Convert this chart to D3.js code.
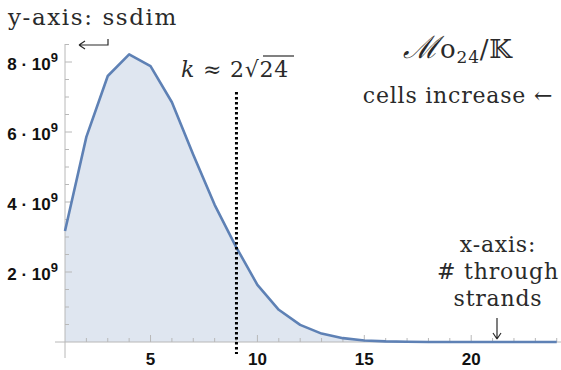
<!DOCTYPE html>
<html>
<head>
<meta charset="UTF-8">
<script src="https://d3js.org/d3.v7.min.js"></script>
</head>
<body style="margin:0">
<svg id="chart" width="561" height="370"></svg>
<script>
// through strands (x) and ssdim values (y, in units of 1e9)
const strands = [1, 2, 3, 4, 5, 6, 7, 8, 9, 10, 11, 12, 13, 14, 15, 16, 17, 18, 19, 20, 21, 22, 23, 24];
const ssdim = [3.17, 5.86, 7.6, 8.22, 7.88, 6.85, 5.35, 3.92, 2.72, 1.63, 0.92, 0.49, 0.24, 0.11, 0.045,
  0.017, 0.006, 0.002, 0.0007, 0.0002, 0.0001, 0, 0, 0];
const xTicks = [5, 10, 15, 20];
const yTicks = [2, 4, 6, 8];
const kMark = 9.02;

const SERIF = "DejaVu Serif";
const SANS = "Liberation Sans";

const svg = d3.select("#chart");
const x = d3.scaleLinear().domain([1, 24.2]).range([65, 561]);
const y = d3.scaleLinear().domain([0, 8]).range([342, 62]);

const blue = "#5e81b5";
const axisCol = "#b8b8b8";
const ink = "#2a2a2a";

const pts = strands.map((s, i) => [s, ssdim[i]]);

function serifText(px, py, size, anchor) {
  return svg.append("text").style("font-family", SERIF).style("font-size", size + "px")
    .style("letter-spacing", "0.8px")
    .attr("fill", ink)
    .attr("x", px).attr("y", py)
    .attr("text-anchor", anchor || "start");
}

// area fill
svg.append("path")
  .datum(pts)
  .attr("fill", blue).attr("fill-opacity", 0.2)
  .attr("d", d3.area().x(d => x(d[0])).y0(y(0)).y1(d => y(d[1])));

// axes
const g = svg.append("g");
g.append("line").attr("x1", 55).attr("x2", 561).attr("y1", y(0)).attr("y2", y(0))
  .attr("stroke", axisCol);
g.append("line").attr("x1", x(1)).attr("x2", x(1)).attr("y1", 44).attr("y2", 358)
  .attr("stroke", axisCol);

// x minor/major ticks
d3.range(2, 25).forEach(v => {
  const major = v % 5 === 0;
  g.append("line").attr("x1", x(v)).attr("x2", x(v))
    .attr("y1", y(0)).attr("y2", y(0) - (major ? 7 : 4))
    .attr("stroke", axisCol);
});
// y minor/major ticks
d3.range(0.5, 8.6, 0.5).forEach(v => {
  const major = v % 2 === 0;
  g.append("line").attr("x1", x(1)).attr("x2", x(1) + (major ? 7 : 4))
    .attr("y1", y(v)).attr("y2", y(v))
    .attr("stroke", axisCol);
});

// line
svg.append("path")
  .datum(pts)
  .attr("fill", "none").attr("stroke", blue).attr("stroke-width", 2.6)
  .attr("stroke-linejoin", "round")
  .attr("d", d3.line().x(d => x(d[0])).y(d => y(d[1])));

// tick labels
xTicks.forEach(v => {
  svg.append("text").style("font-family", SANS).style("font-weight", "bold")
    .style("font-size", "17px").attr("fill", "#111")
    .attr("x", x(v)).attr("y", 365).attr("text-anchor", "middle").text(v);
});
yTicks.forEach(v => {
  const t = svg.append("text").style("font-family", SANS).style("font-weight", "bold")
    .style("font-size", "17px").attr("fill", "#111")
    .attr("x", 58).attr("y", y(v) + 8).attr("text-anchor", "end");
  t.append("tspan").text(v + " \u00b7 10");
  t.append("tspan").attr("dy", -8).style("font-size", "13px").text("9");
});

// k marker
svg.append("line")
  .attr("x1", x(kMark)).attr("x2", x(kMark)).attr("y1", 92).attr("y2", 354)
  .attr("stroke", "#000").attr("stroke-width", 3).attr("stroke-dasharray", "2.5,2.5");

// annotations
const kt = serifText(181, 77, 22);
kt.append("tspan").style("font-style", "italic").text("k");
kt.append("tspan").text(" \u2248 2\u221a24");
svg.append("line").attr("x1", 263).attr("x2", 294).attr("y1", 56).attr("y2", 56)
  .attr("stroke", ink).attr("stroke-width", 1.2);

serifText(8, 25, 23).style("letter-spacing", "1.6px").text("y-axis: ssdim");
svg.append("path").attr("d", "M79,45 H108 V39 M79,45 l6,-4 M79,45 l6,4")
  .attr("fill", "none").attr("stroke", ink).attr("stroke-width", 1.2);

const mt = serifText(458, 58, 26, "middle");
mt.append("tspan").style("font-style", "italic").style("font-size", "31px").text("\u2133");
mt.append("tspan").text("o");
mt.append("tspan").attr("dy", 5).style("font-size", "17px").text("24");
mt.append("tspan").attr("dy", -5).text("/\ud835\udd42");

serifText(458, 103, 22, "middle").text("cells increase \u2190");

["x-axis:", "# through", "strands"].forEach((s, i) => {
  serifText(498, 252 + i * 27, 22, "middle").text(s);
});
svg.append("path").attr("d", "M497,318 V339 M497,339 l-4,-6 M497,339 l4,-6")
  .attr("fill", "none").attr("stroke", ink).attr("stroke-width", 1.2);
</script>
</body>
</html>
